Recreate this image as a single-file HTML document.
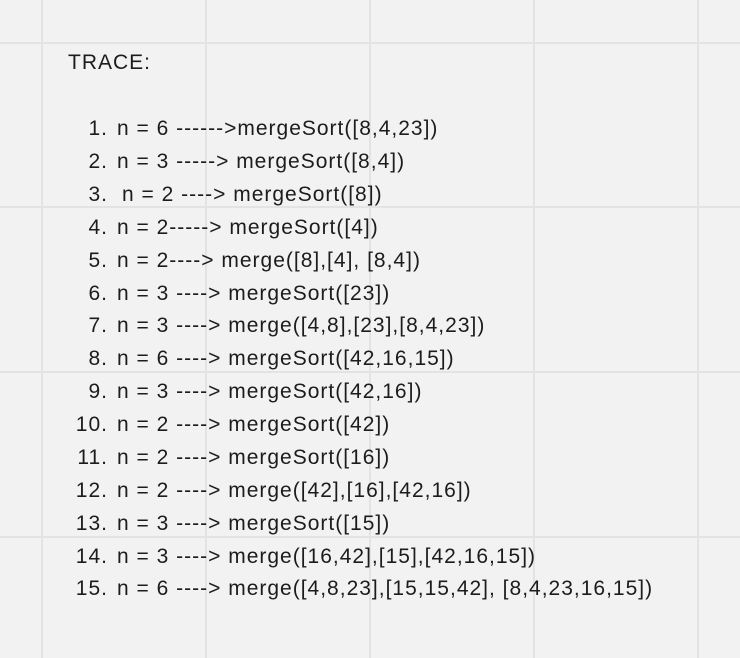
<!DOCTYPE html>
<html><head><style>
html,body{margin:0;padding:0}
body{width:740px;height:658px;background:#f2f2f2;position:relative;overflow:hidden;font-family:"Liberation Sans",sans-serif;color:#1c1c1c}
.v{position:absolute;top:0;width:2px;height:658px;background:#e3e3e3}
.h{position:absolute;left:0;height:2px;width:740px;background:#e3e3e3}
.t{position:absolute;font-size:21px;line-height:24px;white-space:pre;letter-spacing:1px}
.n{position:absolute;font-size:21px;line-height:24px;width:42px;text-align:right;left:66px;letter-spacing:1px}
</style></head><body>
<div class="v" style="left:41px"></div><div class="v" style="left:205px"></div><div class="v" style="left:369px"></div><div class="v" style="left:533px"></div><div class="v" style="left:697px"></div>
<div class="h" style="top:42px"></div><div class="h" style="top:206px"></div><div class="h" style="top:371px"></div><div class="h" style="top:536px"></div>
<div class="t" style="left:68px;top:51px">TRACE:</div>
<div class="n" style="top:117px">1.</div><div class="t" style="left:117px;top:117px">n = 6 ------&gt;mergeSort([8,4,23])</div>
<div class="n" style="top:150px">2.</div><div class="t" style="left:117px;top:150px">n = 3 -----&gt; mergeSort([8,4])</div>
<div class="n" style="top:183px">3.</div><div class="t" style="left:122px;top:183px">n = 2 ----&gt; mergeSort([8])</div>
<div class="n" style="top:216px">4.</div><div class="t" style="left:117px;top:216px">n = 2-----&gt; mergeSort([4])</div>
<div class="n" style="top:249px">5.</div><div class="t" style="left:117px;top:249px">n = 2----&gt; merge([8],[4], [8,4])</div>
<div class="n" style="top:282px">6.</div><div class="t" style="left:117px;top:282px">n = 3 ----&gt; mergeSort([23])</div>
<div class="n" style="top:314px">7.</div><div class="t" style="left:117px;top:314px">n = 3 ----&gt; merge([4,8],[23],[8,4,23])</div>
<div class="n" style="top:347px">8.</div><div class="t" style="left:117px;top:347px">n = 6 ----&gt; mergeSort([42,16,15])</div>
<div class="n" style="top:380px">9.</div><div class="t" style="left:117px;top:380px">n = 3 ----&gt; mergeSort([42,16])</div>
<div class="n" style="top:413px">10.</div><div class="t" style="left:117px;top:413px">n = 2 ----&gt; mergeSort([42])</div>
<div class="n" style="top:446px">11.</div><div class="t" style="left:117px;top:446px">n = 2 ----&gt; mergeSort([16])</div>
<div class="n" style="top:479px">12.</div><div class="t" style="left:117px;top:479px">n = 2 ----&gt; merge([42],[16],[42,16])</div>
<div class="n" style="top:512px">13.</div><div class="t" style="left:117px;top:512px">n = 3 ----&gt; mergeSort([15])</div>
<div class="n" style="top:545px">14.</div><div class="t" style="left:117px;top:545px">n = 3 ----&gt; merge([16,42],[15],[42,16,15])</div>
<div class="n" style="top:577px">15.</div><div class="t" style="left:117px;top:577px">n = 6 ----&gt; merge([4,8,23],[15,15,42], [8,4,23,16,15])</div>
</body></html>
